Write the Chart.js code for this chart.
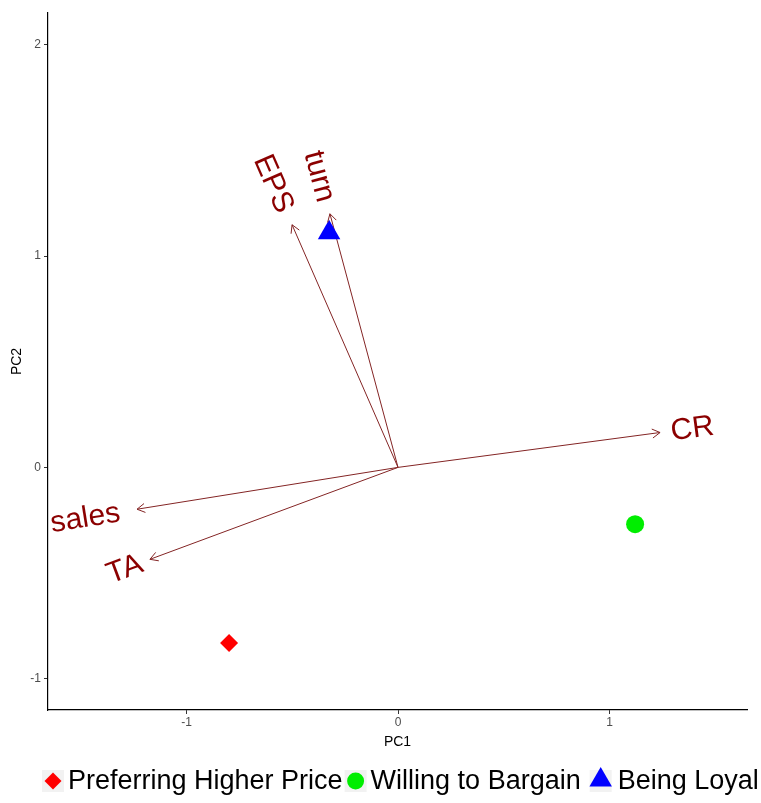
<!DOCTYPE html>
<html>
<head>
<meta charset="utf-8">
<script src="https://cdn.jsdelivr.net/npm/chart.js@4"></script>
<style>
  html, body { margin: 0; padding: 0; background: #ffffff; }
  #wrap { width: 761px; height: 803px; }
</style>
</head>
<body>
<div id="wrap"><canvas id="biplot" width="761" height="803"></canvas></div>
<script>
// Variable loadings (arrows)
const varNames = ['CR', 'sales', 'TA', 'EPS', 'turn'];
const varPC1 = [1.239, -1.234, -1.173, -0.501, -0.322];
const varPC2 = [0.165, -0.198, -0.435, 1.148, 1.200];

// Group scores
const groupNames = ['Preferring Higher Price', 'Willing to Bargain', 'Being Loyal'];
const groupPC1 = [-0.799, 1.121, -0.326];
const groupPC2 = [-0.831, -0.269, 1.110];
const groupColors = ['#FF0000', '#00EE00', '#0000FF'];
const groupShapes = ['rectRot', 'circle', 'triangle'];
const groupSizes = [9, 9, 13];

// Axis ticks
const xTicks = [-1, 0, 1];
const yTicks = [-1, 0, 1, 2];

const FONT = "'Liberation Sans', Arial, sans-serif";
const ARROW_COLOR = '#832424';
const LABEL_COLOR = '#8B0000';

const datasets = [];
groupNames.forEach((name, i) => {
  datasets.push({
    label: name,
    data: [{ x: groupPC1[i], y: groupPC2[i] }],
    pointStyle: groupShapes[i],
    pointRadius: groupSizes[i],
    pointHoverRadius: groupSizes[i],
    backgroundColor: groupColors[i],
    borderColor: groupColors[i],
    borderWidth: 0,
    showLine: false,
    order: 0
  });
});
varNames.forEach((name, i) => {
  datasets.push({
    label: name,
    data: [{ x: 0, y: 0 }, { x: varPC1[i], y: varPC2[i] }],
    showLine: true,
    borderColor: ARROW_COLOR,
    borderWidth: 1,
    pointRadius: 0,
    pointHoverRadius: 0,
    fill: false,
    order: 1
  });
});

// Arrowheads and rotated variable labels
const arrowLabels = {
  id: 'arrowLabels',
  afterDatasetsDraw(chart) {
    const { ctx, scales: { x, y } } = chart;
    const ox = x.getPixelForValue(0), oy = y.getPixelForValue(0);
    ctx.save();
    varNames.forEach((name, i) => {
      const px = x.getPixelForValue(varPC1[i]);
      const py = y.getPixelForValue(varPC2[i]);
      const dx = px - ox, dy = py - oy;
      const len = Math.hypot(dx, dy);
      const ux = dx / len, uy = dy / len;
      // open arrowhead
      const hl = 9, ha = Math.PI / 6;
      const back = Math.atan2(-uy, -ux);
      ctx.strokeStyle = ARROW_COLOR;
      ctx.lineWidth = 1;
      ctx.beginPath();
      ctx.moveTo(px + hl * Math.cos(back + ha), py + hl * Math.sin(back + ha));
      ctx.lineTo(px, py);
      ctx.lineTo(px + hl * Math.cos(back - ha), py + hl * Math.sin(back - ha));
      ctx.stroke();
      // label along the arrow, readable left to right
      ctx.font = '30px ' + FONT;
      const w = ctx.measureText(name).width;
      const cx = px + ux * (0.75 * w);
      const cy = py + uy * (0.75 * w);
      let ang = Math.atan2(dy, dx);
      if (ang > Math.PI / 2) ang -= Math.PI;
      if (ang < -Math.PI / 2) ang += Math.PI;
      ctx.save();
      ctx.translate(cx, cy);
      ctx.rotate(ang);
      ctx.fillStyle = LABEL_COLOR;
      ctx.textAlign = 'center';
      ctx.textBaseline = 'middle';
      ctx.fillText(name, 0, 1);
      ctx.restore();
    });
    ctx.restore();
  }
};

// Legend row under the plot
const bottomLegend = {
  id: 'bottomLegend',
  afterDraw(chart) {
    const { ctx } = chart;
    const yc = 781;
    const keyGap = [15, 15, 17];
    const itemGap = [13, 20, 0];
    let xk = 53;
    ctx.save();
    ctx.font = '27px ' + FONT;
    ctx.textBaseline = 'middle';
    ctx.textAlign = 'left';
    groupNames.forEach((name, i) => {
      ctx.fillStyle = '#F2F2F2';
      ctx.fillRect(xk - 11, yc - 11, 22, 22);
      const r = i === 2 ? 13 : 8.5;
      ctx.fillStyle = groupColors[i];
      ctx.beginPath();
      if (groupShapes[i] === 'circle') {
        ctx.arc(xk, yc, r, 0, Math.PI * 2);
      } else if (groupShapes[i] === 'rectRot') {
        ctx.moveTo(xk, yc - r); ctx.lineTo(xk + r, yc); ctx.lineTo(xk, yc + r); ctx.lineTo(xk - r, yc);
      } else {
        const hw = r * Math.sqrt(3) / 2;
        const cy0 = yc - 1;
        ctx.moveTo(xk, cy0 - r); ctx.lineTo(xk + hw, cy0 + r / 2); ctx.lineTo(xk - hw, cy0 + r / 2);
      }
      ctx.closePath();
      ctx.fill();
      const tx = xk + keyGap[i];
      ctx.fillStyle = '#000000';
      ctx.fillText(name, tx, yc + 1);
      const tw = ctx.measureText(name).width;
      xk = tx + tw + itemGap[i];
    });
    ctx.restore();
  }
};

new Chart(document.getElementById('biplot'), {
  type: 'scatter',
  data: { datasets },
  plugins: [arrowLabels, bottomLegend],
  options: {
    responsive: false,
    animation: false,
    devicePixelRatio: 1,
    layout: { padding: { left: 0, top: 12, right: 14, bottom: 43 } },
    plugins: { legend: { display: false }, tooltip: { enabled: false } },
    scales: {
      x: {
        type: 'linear',
        min: -1.655,
        max: 1.65,
        border: { display: true, color: '#000000', width: 1.2 },
        grid: { display: true, drawOnChartArea: false, drawTicks: true, tickLength: 4, color: '#333333' },
        ticks: { color: '#4D4D4D', font: { family: FONT, size: 12 }, padding: 1 },
        title: { display: true, text: 'PC1', color: '#000000', font: { family: FONT, size: 14 }, padding: { top: 2, bottom: 9 } },
        afterBuildTicks: s => { s.ticks = xTicks.map(v => ({ value: v })); },
        afterFit: s => { s.height = 50; }
      },
      y: {
        type: 'linear',
        min: -1.148,
        max: 2.15,
        border: { display: true, color: '#000000', width: 1.2 },
        grid: { display: true, drawOnChartArea: false, drawTicks: true, tickLength: 4, color: '#333333' },
        ticks: { color: '#4D4D4D', font: { family: FONT, size: 12 }, padding: 3 },
        title: { display: true, text: 'PC2', color: '#000000', font: { family: FONT, size: 14 }, padding: { top: 9, bottom: 0 } },
        afterBuildTicks: s => { s.ticks = yTicks.map(v => ({ value: v })); },
        afterFit: s => { s.width = 48; }
      }
    }
  }
});
</script>
</body>
</html>
